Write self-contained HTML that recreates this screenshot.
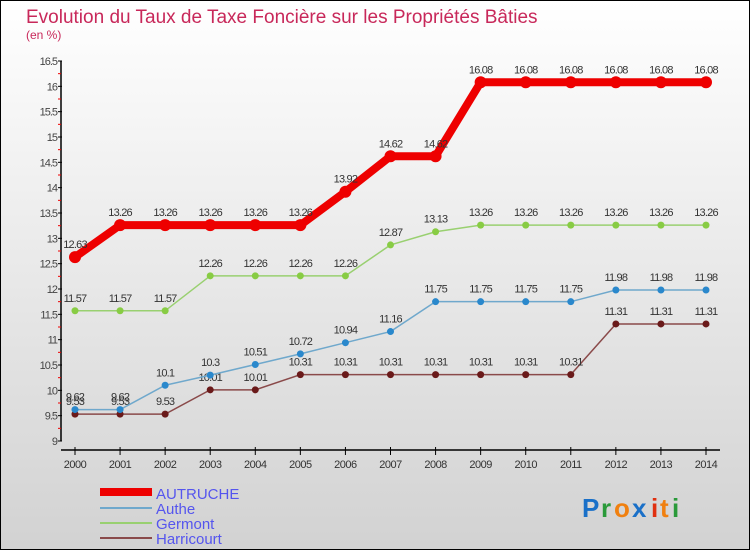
<!DOCTYPE html>
<html><head><meta charset="utf-8"><style>
html,body{margin:0;padding:0}
body{width:750px;height:550px;overflow:hidden;font-family:"Liberation Sans",sans-serif}
#wrap{position:relative;width:748px;height:548px;border:1px solid #000;background:linear-gradient(#ffffff,#d2d2d2)}
</style></head><body>
<div id="wrap">
<svg id="chart" width="748" height="548" viewBox="1 1 748 548" style="position:absolute;left:0;top:0">
<text x="26" y="23" font-size="19" fill="#c8285a">Evolution du Taux de Taxe Foncière sur les Propriétés Bâties</text>
<text x="26" y="39" font-size="12" fill="#c8285a">(en %)</text>
<g id="axes"></g><g id="series"></g>
<g>
<rect x="100" y="488" width="52" height="8" fill="#ee0000"/>
<text x="156" y="499" font-size="15" fill="#5555ee">AUTRUCHE</text>
<rect x="100" y="507" width="52" height="2" fill="#6fa8cc"/>
<text x="156" y="514" font-size="15" fill="#5555ee">Authe</text>
<rect x="100" y="522" width="52" height="2" fill="#99d070"/>
<text x="156" y="529" font-size="15" fill="#5555ee">Germont</text>
<rect x="100" y="537" width="52" height="2" fill="#8a4a4a"/>
<text x="156" y="544" font-size="15" fill="#5555ee">Harricourt</text>
</g>
<g font-size="26" font-weight="bold">
<text x="582" y="517" fill="#1a70c8">P</text><text x="601" y="517" fill="#2a9a3a">r</text><text x="614" y="517" fill="#f08010">o</text><text x="632" y="517" fill="#1a70c8">x</text><text x="651" y="517" fill="#e03010">i</text><text x="660" y="517" fill="#f08010">t</text><text x="672" y="517" fill="#2a9a3a">i</text>
</g>
</svg>
</div>
<script>
const years=[2000,2001,2002,2003,2004,2005,2006,2007,2008,2009,2010,2011,2012,2013,2014];
const yTicks=[9,9.5,10,10.5,11,11.5,12,12.5,13,13.5,14,14.5,15,15.5,16,16.5];
const autruche=[12.63,13.26,13.26,13.26,13.26,13.26,13.92,14.62,14.62,16.08,16.08,16.08,16.08,16.08,16.08];
const authe=[9.62,9.62,10.1,10.3,10.51,10.72,10.94,11.16,11.75,11.75,11.75,11.75,11.98,11.98,11.98];
const germont=[11.57,11.57,11.57,12.26,12.26,12.26,12.26,12.87,13.13,13.26,13.26,13.26,13.26,13.26,13.26];
const harricourt=[9.53,9.53,9.53,10.01,10.01,10.31,10.31,10.31,10.31,10.31,10.31,10.31,11.31,11.31,11.31];
const NS='http://www.w3.org/2000/svg';
const X=i=>75+i*(706-75)/(years.length-1);
const Y=v=>441-(v-9)*(441-61)/7.5;
function mk(tag,attrs,parent){const e=document.createElementNS(NS,tag);for(const k in attrs)e.setAttribute(k,attrs[k]);parent.appendChild(e);return e;}
const ax=document.getElementById('axes');
let yl=mk('line',{x1:61,y1:61,x2:61,y2:441,stroke:'#000','stroke-width':1.5},ax);


yTicks.forEach(t=>{
 mk('line',{x1:58,x2:62,y1:Y(t),y2:Y(t),stroke:'#000'},ax);
 if(t<16.5) mk('line',{x1:58,x2:61,y1:Y(t+0.25),y2:Y(t+0.25),stroke:'#e00'},ax);
 const tx=mk('text',{x:57,y:Y(t)+4,'font-size':11,fill:'#444','text-anchor':'end','letter-spacing':'-1'},ax);
 tx.textContent=String(t);
 
 
});
let xl=mk('line',{x1:61,y1:450,x2:720,y2:450,stroke:'#000','stroke-width':1.5},ax);


years.forEach((yr,i)=>{
 mk('line',{x1:X(i),x2:X(i),y1:447,y2:455,stroke:'#000'},ax);
 const tx=mk('text',{x:X(i),y:468,'font-size':11,fill:'#333','text-anchor':'middle','letter-spacing':'-0.5'},ax);
 tx.textContent=yr;
 
 
});
const sg=document.getElementById('series');
function draw(name,vals,color,dot,w,r){
 const g=mk('g',{},sg);
 
 
 const pl=mk('polyline',{points:vals.map((v,i)=>X(i)+','+Y(v)).join(' '),fill:'none',stroke:color,'stroke-width':w},g);
 
 
 vals.forEach((v,i)=>{
  const c=mk('circle',{cx:X(i),cy:Y(v),r:r,fill:dot},g);
  
  
  const t=mk('text',{x:X(i),y:Y(v)-9,'font-size':11,fill:'#333','text-anchor':'middle','letter-spacing':'-0.8'},g);
  t.textContent=String(v);
  
  
 });
}
draw('harricourt',harricourt,'#8a4a4a','#6a1a1a',1.5,3.5);
draw('authe',authe,'#6fa8cc','#2a88cc',1.5,3.5);
draw('germont',germont,'#99d070','#88cc44',1.5,3.5);
draw('autruche',autruche,'#ee0000','#ee0000',8,6);
</script>
</body></html>
